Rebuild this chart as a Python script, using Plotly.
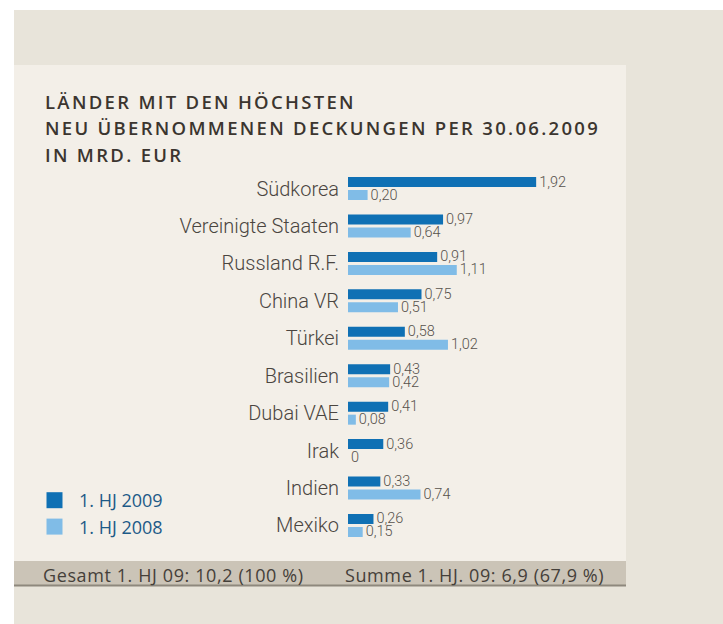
import plotly.graph_objects as go

W, H = 723, 624

countries = ["Südkorea", "Vereinigte Staaten", "Russland R.F.", "China VR", "Türkei",
             "Brasilien", "Dubai VAE", "Irak", "Indien", "Mexiko"]
hj2009 = [1.92, 0.97, 0.91, 0.75, 0.58, 0.43, 0.41, 0.36, 0.33, 0.26]
hj2008 = [0.20, 0.64, 1.11, 0.51, 1.02, 0.42, 0.08, 0.00, 0.74, 0.15]
series_names = ["1. HJ 2009", "1. HJ 2008"]
title_lines = ["LÄNDER MIT DEN HÖCHSTEN",
               "NEU ÜBERNOMMENEN DECKUNGEN PER 30.06.2009",
               "IN MRD. EUR"]
footer_left = "Gesamt 1. HJ 09: 10,2 (100 %)"
footer_right = "Summe 1. HJ. 09: 6,9 (67,9 %)"

DARK = "#0f70b4"
LIGHT = "#80bce7"
OUTER = "#e8e4da"
PANEL = "#f3efe8"
BAR = "#cbc4b7"
TXT = "#45403a"

FONT = "Open Sans"
NFONT = "Roboto"


def fmt(v):
    return "0" if v == 0 else f"{v:.2f}".replace(".", ",")


def px(x):
    return x / W


def py(y):
    return 1 - y / H


fig = go.Figure()
for name, vals, col in [(series_names[0], hj2009, DARK), (series_names[1], hj2008, LIGHT)]:
    fig.add_trace(go.Bar(
        y=countries, x=vals, orientation="h", name=name,
        marker=dict(color=col, line=dict(width=0)),
        text=[fmt(v) for v in vals], textposition="outside", constraintext="none",
        textfont=dict(family=NFONT, size=14.5, color="#57524c", weight=300),
        cliponaxis=False, showlegend=False,
    ))
# legend entries (larger swatches)
for i, (name, col) in enumerate([(series_names[0], DARK), (series_names[1], LIGHT)]):
    fig.add_trace(go.Scatter(
        x=[None], y=[None], mode="markers", name=name, legendgroup=f"g{i}",
        marker=dict(symbol="square", size=19, color=col),
    ))

shapes = [
    dict(type="rect", xref="paper", yref="paper", x0=px(14), x1=1, y0=0, y1=py(10),
         fillcolor=OUTER, line=dict(width=0), layer="below"),
    dict(type="rect", xref="paper", yref="paper", x0=px(14), x1=px(626), y0=py(561), y1=py(65),
         fillcolor=PANEL, line=dict(width=0), layer="below"),
    dict(type="rect", xref="paper", yref="paper", x0=px(14), x1=px(626), y0=py(585), y1=py(561),
         fillcolor=BAR, line=dict(width=0), layer="below"),
    dict(type="rect", xref="paper", yref="paper", x0=px(14), x1=px(626), y0=py(586.5), y1=py(584.5),
         fillcolor="#8e887d", line=dict(width=0), layer="below"),
]

annotations = []
for i, t in enumerate(title_lines):
    annotations.append(dict(
        text=f"<span style='letter-spacing:2.3px'>{t}</span>", xref="paper", yref="paper",
        x=px(43), y=py(102 + i * 26), xanchor="left", yanchor="middle", showarrow=False,
        font=dict(family=FONT, size=18.5, color="#3b352f", weight=600),
    ))
for t, x in [(footer_left, 41), (footer_right, 343)]:
    annotations.append(dict(text=f"<span style='letter-spacing:0.6px'>{t}</span>",
                            xref="paper", yref="paper", x=px(x), y=py(575),
                            xanchor="left", yanchor="middle", showarrow=False,
                            font=dict(family=FONT, size=18, color=TXT)))

fig.update_layout(
    width=W, height=H, margin=dict(l=0, r=0, t=0, b=0),
    paper_bgcolor="white", plot_bgcolor="rgba(0,0,0,0)",
    barmode="group", bargap=0.305, bargroupgap=0.23,
    separators=",.",
    shapes=shapes, annotations=annotations,
    showlegend=True,
    legend=dict(x=px(30), y=py(482), xanchor="left", yanchor="top",
                bgcolor="rgba(0,0,0,0)", font=dict(family=FONT, size=18, color="#1d5a87"),
                tracegroupgap=0, itemwidth=39),
    xaxis=dict(domain=[px(348), px(626)], range=[0, 278 / 98.0], visible=False, fixedrange=True),
    yaxis=dict(domain=[py(544.2), py(169.8)], autorange="reversed", showgrid=False,
               zeroline=False, showline=False, ticks="", ticklabelstandoff=8,
               tickfont=dict(family=NFONT, size=20, color="#4a4540", weight=300)),
)

fig.write_html("out.html", config={"displayModeBar": False},
               post_script="document.body.style.margin='0';")
